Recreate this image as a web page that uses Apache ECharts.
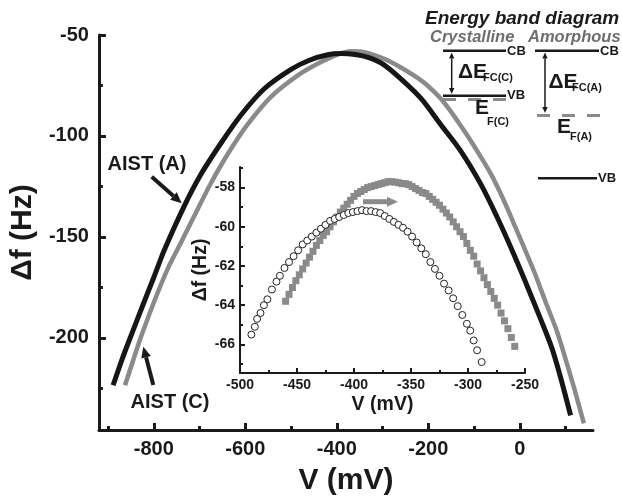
<!DOCTYPE html>
<html>
<head>
<meta charset="utf-8">
<title>AIST KPFM</title>
<script src="https://cdn.jsdelivr.net/npm/echarts@6/dist/echarts.min.js"></script>
<style>
  html, body { margin: 0; padding: 0; background: #fff; }
  #chart { width: 622px; height: 501px; }
</style>
</head>
<body>
<div id="chart"></div>
<script>
// tick values
var mainXTicks = [-800, -600, -400, -200, 0];
var mainXMinor = [-900, -700, -500, -300, -100, 100];
var mainYTicks = [-200, -150, -100, -50];
var mainYMinor = [-225, -175, -125, -75];
var insetXTicks = [-500, -450, -400, -350, -300, -250];
var insetXMinor = [-475, -425, -375, -325, -275];
var insetYTicks = [-66, -64, -62, -60, -58];
var insetYMinor = [-67, -65, -63, -61, -59, -57];

// main curves [V (mV), df (Hz)]
var aistA = [
  [-889, -223.5], [-870, -211], [-850, -199], [-820, -181.5], [-800, -170],
  [-777, -156.5], [-733, -134.5], [-697, -119], [-653, -103.5], [-609, -89.5],
  [-558, -76.5], [-500, -67], [-460, -62.5], [-420, -59.8], [-391, -59.2],
  [-360, -59.7], [-330, -61.2], [-300, -64.3], [-260, -71.7], [-216, -81.4],
  [-173, -94.3], [-129, -107.5], [-85, -124], [-50, -140], [-20, -155],
  [10, -171], [46, -191], [70, -205], [89, -219.5], [111, -238.4]
];
var aistC = [
  [-863, -223.5], [-845, -211], [-828, -199.5], [-800, -182.5], [-770, -166],
  [-740, -152.5], [-708, -138], [-675, -123.3], [-638, -108.8], [-595, -94.3],
  [-544, -80.6], [-486, -70.1], [-440, -64], [-400, -59.8], [-369, -58.1],
  [-340, -58.5], [-310, -60.6], [-285, -63], [-260, -66.1], [-230, -70.3],
  [-202, -75], [-175, -81], [-151, -87.8], [-129, -95], [-107, -102.5],
  [-85, -110.5], [-64, -118.5], [-45, -127], [-27, -136], [-10, -145],
  [6, -153.5], [31, -167], [56, -182], [82, -197.3], [100, -210.5],
  [118.5, -224.7], [140, -242.4]
];

// inset, zoom on the maximum
var insetA = [
  [-490, -65.5], [-487, -65.1], [-485, -64.7], [-482, -64.4], [-479, -64.0],
  [-476, -63.7], [-472, -63.2], [-468, -62.8], [-465, -62.5], [-461, -62.1],
  [-457, -61.8], [-453, -61.5], [-449, -61.2], [-445, -60.9], [-441, -60.7],
  [-437, -60.5], [-433, -60.3], [-429, -60.1], [-425, -59.9], [-421, -59.7],
  [-417, -59.6], [-413, -59.5], [-409, -59.4], [-405, -59.3], [-401, -59.25],
  [-397, -59.2], [-393, -59.15], [-389, -59.2], [-385, -59.2], [-381, -59.25],
  [-377, -59.3], [-373, -59.45], [-369, -59.6], [-365, -59.75], [-361, -59.9],
  [-357, -60.05], [-353, -60.25], [-349, -60.5], [-345, -60.8], [-341, -61.1],
  [-337, -61.4], [-333, -61.8], [-329, -62.15], [-325, -62.5], [-321, -62.9],
  [-317, -63.25], [-313, -63.65], [-309, -64.05], [-305, -64.5], [-301, -64.95],
  [-298, -65.3], [-295, -65.8], [-292, -66.3], [-288, -66.9]
];
var insetC = [
  [-460, -63.8], [-457, -63.45], [-454, -63.1], [-451, -62.75], [-448, -62.45],
  [-445, -62.15], [-442, -61.85], [-439, -61.55], [-436, -61.25], [-433, -60.95],
  [-430, -60.7], [-427, -60.45], [-424, -60.25], [-421, -60.0], [-418, -59.75],
  [-415, -59.5], [-412, -59.25], [-409, -59.05], [-406, -58.85], [-403, -58.65],
  [-400, -58.45], [-397, -58.3], [-394, -58.2], [-391, -58.1], [-388, -58.0],
  [-385, -57.95], [-382, -57.9], [-379, -57.85], [-376, -57.8], [-373, -57.75],
  [-370, -57.7], [-367, -57.7], [-364, -57.72], [-361, -57.75], [-358, -57.8],
  [-355, -57.8], [-352, -57.85], [-349, -57.95], [-346, -58.05], [-343, -58.15],
  [-340, -58.25], [-337, -58.3], [-334, -58.45], [-331, -58.6], [-328, -58.75],
  [-325, -58.9], [-322, -59.1], [-319, -59.3], [-316, -59.5], [-313, -59.75],
  [-310, -60.0], [-307, -60.25], [-304, -60.5], [-301, -60.85], [-298, -61.2],
  [-295, -61.5], [-292, -61.9], [-289, -62.25], [-286, -62.6], [-283, -62.95],
  [-280, -63.3], [-277, -63.65], [-274, -64.0], [-271, -64.4], [-268, -64.8],
  [-265, -65.2], [-262, -65.65], [-259, -66.1]
];

var FONT = '"Liberation Sans", Arial, sans-serif';
var INK = '#1a1a1a';
var GRAY = '#8a8a8a';

function valAxis(o) {
  // one axis per tick set; the minor ones only draw short ticks
  return {
    type: 'value',
    gridIndex: o.grid,
    min: o.min,
    max: o.max,
    position: o.pos,
    axisLine: { show: !o.minor, onZero: false, lineStyle: { color: INK, width: o.lw } },
    axisTick: {
      show: true, inside: true, customValues: o.ticks,
      length: o.tl, lineStyle: { color: INK, width: o.lw }
    },
    axisLabel: {
      show: !o.minor, customValues: o.ticks,
      fontSize: o.fs, fontWeight: 'bold', fontFamily: FONT, color: INK, margin: o.margin
    },
    splitLine: { show: false },
    name: o.name || '',
    nameLocation: 'middle',
    nameGap: o.nameGap,
    nameTextStyle: { fontSize: o.nfs, fontWeight: 'bold', fontFamily: FONT, color: INK }
  };
}

function arrow(x1, y1, x2, y2, w, head, color, both) {
  var a = Math.atan2(y2 - y1, x2 - x1);
  var c = Math.cos(a), s = Math.sin(a);
  var hw = head * 0.45;
  var out = [];
  var sx = both ? x1 + head * c : x1, sy = both ? y1 + head * s : y1;
  out.push({ type: 'line', shape: { x1: sx, y1: sy, x2: x2 - head * c, y2: y2 - head * s },
    style: { stroke: color, lineWidth: w } });
  out.push({ type: 'polygon', shape: { points: [[x2, y2],
    [x2 - head * c - hw * s, y2 - head * s + hw * c], [x2 - head * c + hw * s, y2 - head * s - hw * c]] },
    style: { fill: color } });
  if (both) {
    out.push({ type: 'polygon', shape: { points: [[x1, y1],
      [x1 + head * c - hw * s, y1 + head * s + hw * c], [x1 + head * c + hw * s, y1 + head * s - hw * c]] },
      style: { fill: color } });
  }
  return out;
}

function txt(x, y, t, size, color, italic, align) {
  return { type: 'text', style: {
    text: t, x: x, y: y, fontSize: size, fontWeight: 'bold', fontFamily: FONT,
    fontStyle: italic ? 'italic' : 'normal', fill: color || INK,
    align: align || 'left', verticalAlign: 'middle' } };
}

function seg(x1, y1, x2, y2, w, color, dash) {
  return { type: 'line', shape: { x1: x1, y1: y1, x2: x2, y2: y2 },
    style: { stroke: color || INK, lineWidth: w, lineDash: dash || null } };
}

var graphics = [].concat(
  // labels of the two main curves
  txt(147, 164.5, 'AIST (A)', 20, INK, false, 'center'),
  arrow(151.7, 176.7, 181.7, 203.3, 4, 11, INK),
  txt(170, 402.5, 'AIST (C)', 20, INK, false, 'center'),
  arrow(153.3, 385, 143.3, 346.7, 4, 11, INK),
  // shift of the maximum in the inset
  arrow(363, 201.7, 398, 201.7, 5, 11, GRAY),
  // energy band diagram
  txt(425, 18.5, 'Energy band diagram', 19, INK, true),
  txt(430, 37, 'Crystalline', 16.5, '#6e6e6e', true),
  txt(528, 37, 'Amorphous', 16.5, '#6e6e6e', true),
  seg(443, 50.7, 506, 50.7, 2.5),
  txt(507, 51, 'CB', 13),
  arrow(451.7, 52.5, 451.7, 94, 1.5, 6, INK, true),
  txt(458, 72.5, '\u0394E', 21),
  txt(483, 77.5, 'FC(C)', 11),
  seg(443, 95.7, 506, 95.7, 2.5),
  txt(507, 95.5, 'VB', 13),
  seg(443, 99.5, 510, 99.5, 3, GRAY, [13, 12]),
  txt(475, 108.5, 'E', 21),
  txt(487, 121.5, 'F(C)', 11),
  seg(535, 50.7, 599, 50.7, 2.5),
  txt(600, 51, 'CB', 13),
  arrow(545, 52.5, 545, 113, 1.5, 6, INK, true),
  txt(548.5, 82, '\u0394E', 21),
  txt(572, 87.5, 'FC(A)', 11),
  seg(537, 115.5, 601, 115.5, 3, GRAY, [13, 12]),
  txt(557, 127.5, 'E', 21),
  txt(570, 136.5, 'F(A)', 11),
  seg(538, 178.3, 597, 178.3, 2.5),
  txt(598, 178.5, 'VB', 13)
);

var chart = echarts.init(document.getElementById('chart'));
var option = {
  animation: false,
  backgroundColor: '#fff',
  grid: [
    { left: 98, top: 35, width: 495, height: 405 },
    { left: 240, top: 167, width: 285, height: 206 }
  ],
  xAxis: [
    valAxis({ grid: 0, min: -920, max: 160, pos: 'bottom', ticks: mainXTicks, lw: 3, tl: 7,
      fs: 20, margin: 9, name: 'V (mV)', nameGap: 36, nfs: 30 }),
    valAxis({ grid: 0, min: -920, max: 160, pos: 'bottom', ticks: mainXMinor, lw: 3, tl: 4, minor: true }),
    valAxis({ grid: 1, min: -500, max: -250, pos: 'bottom', ticks: insetXTicks, lw: 2, tl: 5,
      fs: 14, margin: 5, name: 'V (mV)', nameGap: 22, nfs: 19.5 }),
    valAxis({ grid: 1, min: -500, max: -250, pos: 'bottom', ticks: insetXMinor, lw: 2, tl: 3, minor: true })
  ],
  yAxis: [
    valAxis({ grid: 0, min: -245.65, max: -50, pos: 'left', ticks: mainYTicks, lw: 3, tl: 7,
      fs: 20, margin: 10, name: '\u0394f (Hz)', nameGap: 50, nfs: 30 }),
    valAxis({ grid: 0, min: -245.65, max: -50, pos: 'left', ticks: mainYMinor, lw: 3, tl: 4, minor: true }),
    valAxis({ grid: 1, min: -67.46, max: -56.95, pos: 'left', ticks: insetYTicks, lw: 2, tl: 5,
      fs: 14, margin: 5, name: '\u0394f (Hz)', nameGap: 26, nfs: 19.5 }),
    valAxis({ grid: 1, min: -67.46, max: -56.95, pos: 'left', ticks: insetYMinor, lw: 2, tl: 3, minor: true })
  ],
  series: [
    { name: 'AIST (C)', type: 'line', xAxisIndex: 0, yAxisIndex: 0, data: aistC,
      smooth: 0.3, symbol: 'none', lineStyle: { color: GRAY, width: 4.5 } },
    { name: 'AIST (A)', type: 'line', xAxisIndex: 0, yAxisIndex: 0, data: aistA,
      smooth: 0.3, symbol: 'none', lineStyle: { color: '#161616', width: 5 } },
    { name: 'AIST (C) inset', type: 'scatter', xAxisIndex: 2, yAxisIndex: 2, data: insetC,
      symbol: 'rect', symbolSize: 7, itemStyle: { color: GRAY, opacity: 1 } },
    { name: 'AIST (A) inset', type: 'scatter', xAxisIndex: 2, yAxisIndex: 2, data: insetA,
      symbol: 'circle', symbolSize: 7,
      itemStyle: { color: '#fff', borderColor: '#222', borderWidth: 1, opacity: 1 } }
  ],
  graphic: graphics
};
chart.setOption(option);
</script>
</body>
</html>
